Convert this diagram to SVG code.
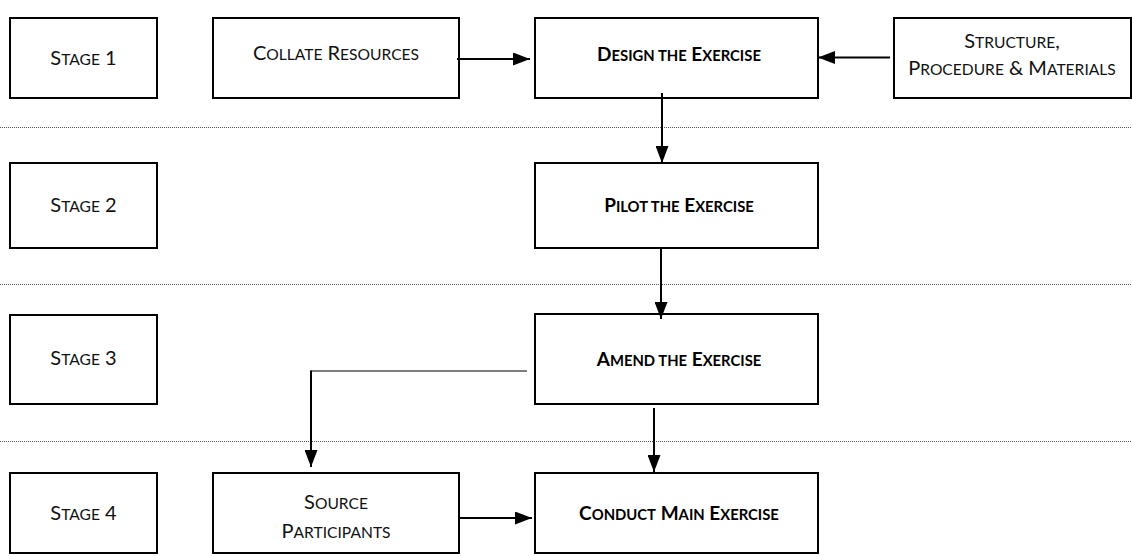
<svg xmlns="http://www.w3.org/2000/svg" width="1132" height="556" viewBox="0 0 1132 556">
  <style>
    .box { fill: #ffffff; stroke: #000000; stroke-width: 2; }
    .sep { stroke: #555555; stroke-width: 1; stroke-dasharray: 1 1; fill: none; }
    .lbl { font-family: Lato, "Liberation Sans", sans-serif; font-size: 20px; fill: #111111; text-anchor: middle; }
    .bold { font-weight: bold; font-size: 19px; fill: #000000; }
    .sc { font-size: 0.78em; }
    .wire { stroke: #000000; stroke-width: 2; fill: none; }
    .thin { stroke: #555555; stroke-width: 1.5; fill: none; }
  </style>
  <defs>
    <marker id="head" viewBox="0 0 17 13" refX="17" refY="6.5" markerWidth="17" markerHeight="13" markerUnits="userSpaceOnUse" orient="auto">
      <path d="M0,0 L17,6.5 L0,13 Z" fill="#000000"/>
    </marker>
  </defs>
  <rect width="1132" height="556" fill="#ffffff"/>

  <!-- stage separators -->
  <g id="separators">
    <line class="sep" x1="0" y1="127.5" x2="1132" y2="127.5"/>
    <line class="sep" x1="0" y1="284.5" x2="1132" y2="284.5"/>
    <line class="sep" x1="0" y1="441.5" x2="1132" y2="441.5"/>
  </g>

  <g id="stage1">
    <rect class="box" x="10" y="18" width="147" height="80"/>
    <text class="lbl" x="83.5" y="65">S<tspan class="sc">TAGE</tspan> 1</text>
  </g>
  <g id="collate">
    <rect class="box" x="213" y="18" width="246" height="80"/>
    <text class="lbl" x="336" y="60">C<tspan class="sc">OLLATE</tspan> R<tspan class="sc">ESOURCES</tspan></text>
  </g>
  <g id="design">
    <rect class="box" x="535" y="18" width="283" height="80"/>
    <text class="lbl bold" x="679" y="61">D<tspan class="sc">ESIGN THE</tspan> E<tspan class="sc">XERCISE</tspan></text>
  </g>
  <g id="structure">
    <rect class="box" x="894" y="18" width="237" height="80"/>
    <text class="lbl" x="1012" y="48">S<tspan class="sc">TRUCTURE</tspan>,</text>
    <text class="lbl" x="1012" y="75">P<tspan class="sc">ROCEDURE</tspan> &amp; M<tspan class="sc">ATERIALS</tspan></text>
  </g>

  <g id="stage2">
    <rect class="box" x="10" y="163" width="147" height="85"/>
    <text class="lbl" x="83.5" y="212">S<tspan class="sc">TAGE</tspan> 2</text>
  </g>
  <g id="pilot">
    <rect class="box" x="535" y="163" width="283" height="85"/>
    <text class="lbl bold" x="679" y="212">P<tspan class="sc">ILOT THE</tspan> E<tspan class="sc">XERCISE</tspan></text>
  </g>

  <g id="stage3">
    <rect class="box" x="10" y="315" width="147" height="89"/>
    <text class="lbl" x="83.5" y="365">S<tspan class="sc">TAGE</tspan> 3</text>
  </g>
  <g id="amend">
    <rect class="box" x="535" y="314" width="283" height="90"/>
    <text class="lbl bold" x="679" y="366">A<tspan class="sc">MEND THE</tspan> E<tspan class="sc">XERCISE</tspan></text>
  </g>

  <g id="stage4">
    <rect class="box" x="10" y="473" width="147" height="80"/>
    <text class="lbl" x="83.5" y="520">S<tspan class="sc">TAGE</tspan> 4</text>
  </g>
  <g id="source">
    <rect class="box" x="213" y="473" width="246" height="80"/>
    <text class="lbl" x="336" y="509">S<tspan class="sc">OURCE</tspan></text>
    <text class="lbl" x="336" y="538">P<tspan class="sc">ARTICIPANTS</tspan></text>
  </g>
  <g id="conduct">
    <rect class="box" x="535" y="473" width="283" height="80"/>
    <text class="lbl bold" x="679" y="520">C<tspan class="sc">ONDUCT</tspan> M<tspan class="sc">AIN</tspan> E<tspan class="sc">XERCISE</tspan></text>
  </g>

  <g id="connectors">
    <line class="wire" x1="457" y1="59" x2="530" y2="59" marker-end="url(#head)"/>
    <line class="wire" x1="890" y1="57.5" x2="818" y2="57.5" marker-end="url(#head)"/>
    <line class="wire" x1="662" y1="93" x2="662" y2="163" marker-end="url(#head)"/>
    <line class="wire" x1="661" y1="248" x2="661" y2="319" marker-end="url(#head)"/>
    <line class="thin" x1="527" y1="371" x2="311" y2="371"/>
    <line class="wire" x1="311" y1="370.5" x2="311" y2="467" marker-end="url(#head)"/>
    <line class="wire" x1="654" y1="408" x2="654" y2="472" marker-end="url(#head)"/>
    <line class="wire" x1="459" y1="518" x2="532" y2="518" marker-end="url(#head)"/>
  </g>
</svg>
